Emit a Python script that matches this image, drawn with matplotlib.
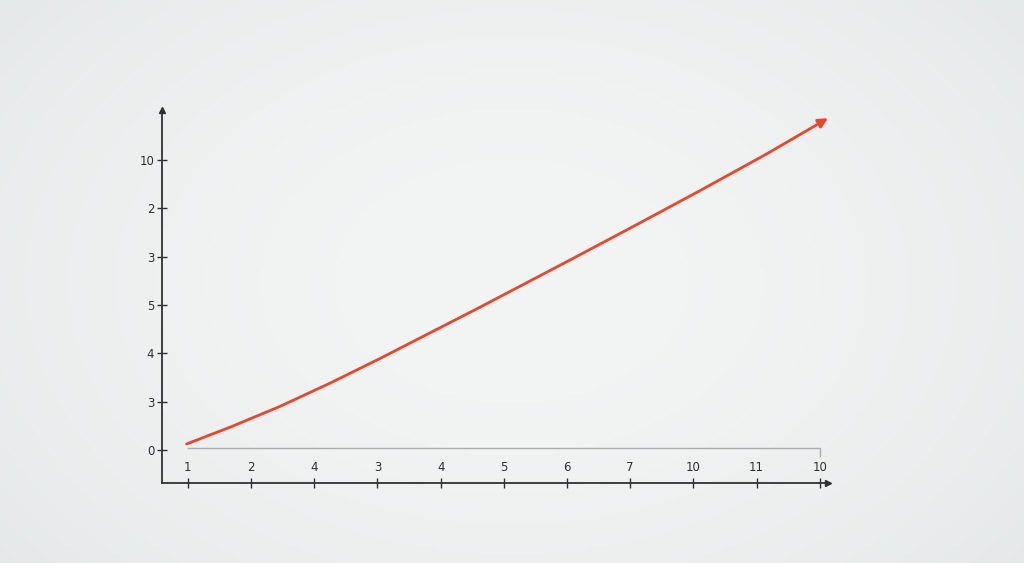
import matplotlib.pyplot as plt
import numpy as np

# tick labels as printed in the picture (positions are 0..n-1)
x_labels = ["1", "2", "4", "3", "4", "5", "6", "7", "10", "11", "10"]
y_labels = ["0", "3", "4", "5", "3", "2", "10"]

# curve, in tick-index units
curve_x = [-0.02, 0.665, 1.456, 2.247, 3.038, 3.829, 4.620, 5.043, 5.992, 7.046, 8.101, 9.157, 10.13]
curve_y = [0.124, 0.47, 0.90, 1.38, 1.89, 2.42, 2.95, 3.24, 3.89, 4.62, 5.36, 6.12, 6.86]

bg = "#eeeff0"
ink = "#2f3133"
red = "#e8472c"

fig = plt.figure(figsize=(10.24, 5.63), dpi=100, facecolor=bg)

# soft vignette behind the chart: lighter centre, slightly darker edges
bg_ax = fig.add_axes([0, 0, 1, 1], zorder=-1)
gx, gy = np.meshgrid(np.linspace(-1, 1, 256), np.linspace(-1, 1, 144))
w = np.clip(0.55 * (gx ** 2) + 0.35 * (gy ** 2), 0, 1)[..., None]
centre = np.array([243, 244, 244]) / 255
edge = np.array([228, 231, 232]) / 255
bg_ax.imshow(centre * (1 - w) + edge * w, aspect="auto")
bg_ax.axis("off")

ax = fig.add_axes([0.1582, 0.1421, 0.6504, 0.6625])
ax.set_facecolor("none")

ax.set_xlim(-0.41, 10.13)
ax.set_ylim(-0.683, 7.03)

for side in ["top", "right"]:
    ax.spines[side].set_visible(False)
for side in ["left", "bottom"]:
    ax.spines[side].set_color(ink)
    ax.spines[side].set_linewidth(1.3)

# arrow heads at the ends of the axes
ax.plot(1, 0, marker=">", color=ink, markersize=5, transform=ax.transAxes, clip_on=False)
ax.plot(0, 1, marker="^", color=ink, markersize=5, transform=ax.transAxes, clip_on=False)

ax.set_xticks(range(len(x_labels)))
ax.set_xticklabels(x_labels)
ax.set_yticks(range(len(y_labels)))
ax.set_yticklabels(y_labels)
ax.tick_params(axis="both", direction="inout", length=7, width=1, color=ink,
               labelcolor=ink, labelsize=8.5)
ax.tick_params(axis="x", pad=-19)
ax.tick_params(axis="y", pad=2)

# thin gray baseline with a small end tick
ax.plot([0, len(x_labels) - 1, len(x_labels) - 1], [0.04, 0.04, -0.12],
        color="#a9abad", lw=1.0, clip_on=False)

# red curve with arrow at the end
ax.plot(curve_x[:-1], curve_y[:-1], color=red, lw=2.0, solid_capstyle="round",
        solid_joinstyle="round", clip_on=False)
ax.annotate("", xy=(curve_x[-1], curve_y[-1]), xytext=(curve_x[-2], curve_y[-2]),
            arrowprops=dict(arrowstyle="-|>", color=red, lw=2.0, mutation_scale=14,
                            shrinkA=0, shrinkB=0),
            annotation_clip=False)

fig.savefig("out.png", dpi=100, facecolor=bg)
